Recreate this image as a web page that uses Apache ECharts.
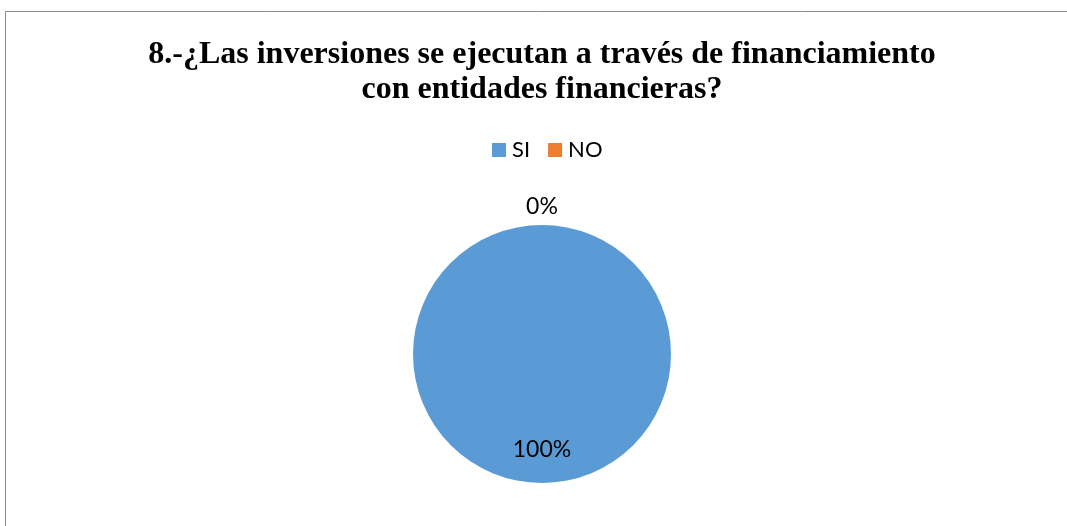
<!DOCTYPE html>
<html>
<head>
<meta charset="utf-8">
<script src="https://cdn.jsdelivr.net/npm/echarts@6/dist/echarts.min.js"></script>
<style>
html,body{margin:0;padding:0;background:#fff;}
#chart{width:1067px;height:526px;}
</style>
</head>
<body>
<div id="chart"></div>
<script>
const titleLines = ['8.-¿Las inversiones se ejecutan a través de financiamiento', 'con entidades financieras?'];
const categories = ['SI', 'NO'];
const values = [100, 0];
const colors = ['#5B9BD5', '#ED7D31'];

const chart = echarts.init(document.getElementById('chart'), null, {renderer: 'canvas'});
chart.setOption({
  animation: false,
  color: colors,
  title: {
    text: titleLines.join('\n'),
    left: 537,
    textAlign: 'center',
    top: 32,
    textStyle: {
      fontFamily: '"Liberation Serif", serif',
      fontWeight: 'bold',
      fontSize: 32,
      lineHeight: 35,
      color: '#000'
    }
  },
  legend: {
    data: categories,
    top: 134,
    left: 487,
    itemWidth: 14,
    itemHeight: 14,
    itemGap: 18,
    icon: 'rect',
    textStyle: {fontFamily: 'Lato, sans-serif', fontSize: 22, color: '#000', padding: [0,0,0,1]}
  },
  graphic: [
    {type: 'line', shape: {x1: 5.5, y1: 11.5, x2: 1067, y2: 11.5}, style: {stroke: '#8c8c8c', lineWidth: 1}},
    {type: 'line', shape: {x1: 5.5, y1: 11.5, x2: 5.5, y2: 526}, style: {stroke: '#8c8c8c', lineWidth: 1}}
  ],
  series: [{
    type: 'pie',
    center: [542, 354],
    radius: 129,
    startAngle: 90,
    clockwise: true,
    avoidLabelOverlap: false,
    data: categories.map((c, i) => ({
      name: c,
      value: values[i],
      label: {position: i === 0 ? 'inside' : 'outside'}
    })),
    label: {
      show: true,
      formatter: p => Math.round(p.percent) + '%',
      fontFamily: 'Lato, sans-serif',
      fontSize: 23,
      color: '#000'
    },
    labelLine: {show: false},
    labelLayout: function (params) {
      const cx = params.rect.x + params.rect.width / 2;
      const lx = params.labelRect.x + params.labelRect.width / 2;
      if (params.dataIndex === 0) {
        return {dy: 28};
      }
      return {dx: cx - lx, dy: -3};
    }
  }]
});
</script>
</body>
</html>
